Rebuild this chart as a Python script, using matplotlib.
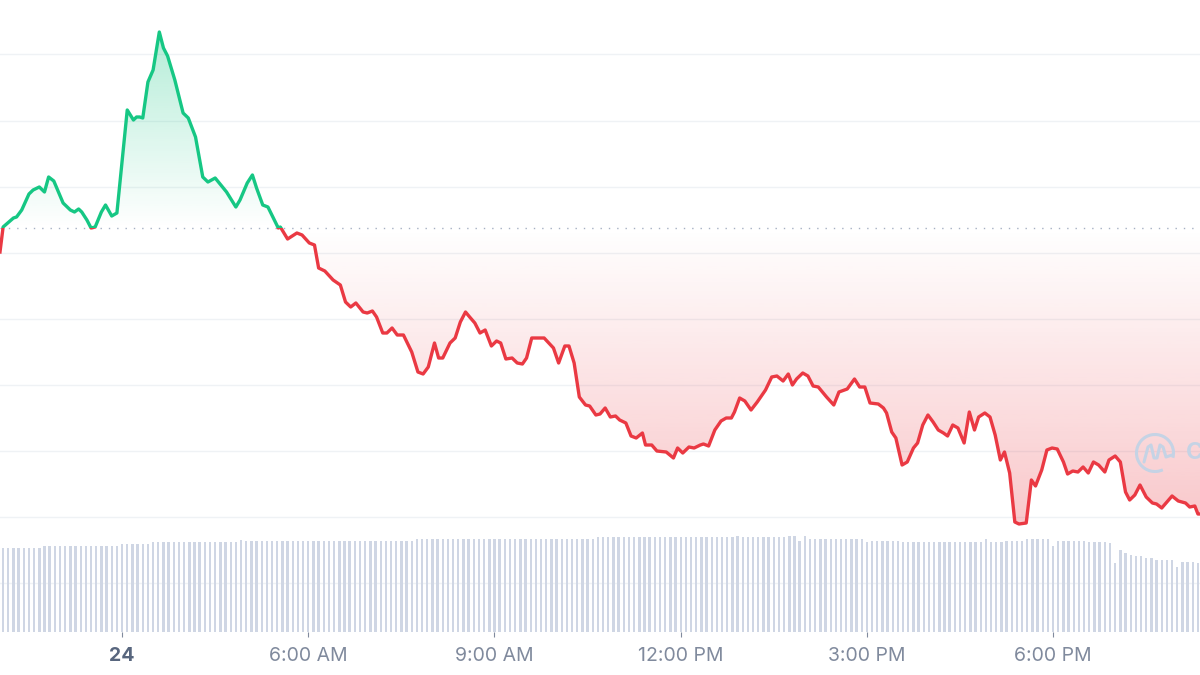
import numpy as np
import matplotlib
matplotlib.use("Agg")
import matplotlib.pyplot as plt
from matplotlib.patches import Rectangle, PathPatch, Arc
from matplotlib.path import Path
import matplotlib.colors as mcolors

plt.rcParams['font.family'] = ['Inter', 'DejaVu Sans']

# ---------------- data ----------------
# minutes since the left edge of the view (5-minute candles)
price_time = [0, 3, 13, 16, 21, 28, 32, 38, 43, 47,
              52, 61, 68, 72, 76, 79, 84, 88, 92, 98,
              102, 108, 113, 123, 129, 132, 135, 138, 143, 148,
              154, 158, 162, 169, 177, 182, 189, 196, 201, 208,
              215, 219, 228, 232, 239, 244, 248, 254, 259, 269,
              271, 278, 287, 292, 299, 304, 308, 314, 322, 329,
              334, 339, 344, 351, 355, 360, 364, 370, 374, 379,
              384, 390, 398, 404, 409, 414, 420, 424, 428, 435,
              440, 445, 450, 454, 459, 464, 469, 475, 480, 484,
              489, 495, 500, 505, 509, 514, 520, 526, 535, 540,
              546, 550, 555, 560, 566, 570, 576, 580, 585, 590,
              595, 599, 605, 610, 615, 621, 624, 630, 635, 644,
              651, 655, 660, 666, 671, 677, 680, 685, 691, 697,
              702, 707, 710, 715, 720, 726, 732, 740, 746, 751,
              757, 762, 766, 770, 776, 781, 786, 791, 799, 806,
              811, 819, 826, 831, 836, 841, 849, 854, 857, 862,
              866, 872, 877, 883, 887, 892, 897, 902, 907, 912,
              916, 921, 926, 932, 937, 942, 946, 952, 957, 962,
              967, 971, 976, 981, 985, 992, 997, 1001, 1007, 1012,
              1017, 1022, 1028, 1032, 1037, 1042, 1047, 1052, 1057, 1062,
              1068, 1072, 1078, 1083, 1088, 1092, 1097, 1102, 1108, 1114,
              1118, 1123, 1133, 1139, 1146, 1150, 1155, 1158, 1160]

price = [380, 405, 414, 415, 422, 438, 442, 445, 440, 455,
         451, 429, 422, 420, 423, 420, 412, 404, 405, 420,
         427, 416, 419, 522, 512, 515, 515, 514, 550, 562,
         600, 584, 576, 552, 519, 514, 495, 455, 450, 454,
         445, 440, 425, 432, 449, 457, 444, 427, 425, 404,
         405, 393, 399, 397, 389, 387, 364, 361, 352, 347,
         330, 325, 329, 320, 319, 321, 315, 299, 299, 304,
         297, 297, 280, 260, 258, 265, 289, 274, 274, 289,
         294, 310, 320, 315, 309, 299, 302, 286, 291, 289,
         273, 274, 269, 268, 274, 294, 294, 294, 284, 269,
         286, 286, 269, 235, 227, 226, 217, 218, 224, 215,
         216, 212, 209, 196, 194, 199, 187, 187, 181, 180,
         174, 184, 179, 185, 184, 187, 188, 186, 202, 211,
         214, 214, 220, 234, 231, 222, 230, 242, 255, 256,
         251, 258, 247, 253, 259, 256, 246, 245, 235, 227,
         240, 243, 253, 245, 245, 229, 228, 224, 219, 200,
         194, 167, 170, 184, 189, 207, 217, 210, 202, 199,
         196, 207, 204, 189, 220, 202, 215, 219, 215, 197,
         172, 180, 159, 110, 108, 109, 152, 146, 162, 182,
         184, 183, 170, 158, 161, 160, 165, 159, 170, 167,
         160, 172, 176, 170, 140, 132, 137, 147, 135, 129,
         128, 124, 136, 131, 129, 125, 126, 118, 118]

open_price = 404  # reference (opening) price, dotted line

volume = [8.4, 8.4, 8.4, 8.4, 8.4, 8.4, 8.4, 8.4,
          8.6, 8.6, 8.6, 8.6, 8.6, 8.6, 8.6, 8.6, 8.6, 8.6, 8.6, 8.6, 8.6, 8.6, 8.6,
          8.8, 8.8, 8.8, 8.8, 8.8, 8.8,
          9.0, 9.0, 9.0, 9.0, 9.0, 9.0, 9.0, 9.0, 9.0, 9.0, 9.0, 9.0, 9.0, 9.0, 9.0, 9.0, 9.0,
          9.2,
          9.1, 9.1, 9.1, 9.1, 9.1, 9.1, 9.1, 9.1, 9.1, 9.1, 9.1, 9.1, 9.1, 9.1, 9.1, 9.1, 9.1,
          9.1, 9.1, 9.1, 9.1, 9.1, 9.1, 9.1, 9.1, 9.1, 9.1, 9.1, 9.1, 9.1, 9.1, 9.1, 9.1,
          9.3, 9.3, 9.3, 9.3, 9.3, 9.3, 9.3, 9.3, 9.3, 9.3, 9.3, 9.3, 9.3, 9.3, 9.3, 9.3, 9.3, 9.3,
          9.3, 9.3, 9.3, 9.3, 9.3, 9.3, 9.3, 9.3, 9.3, 9.3, 9.3, 9.3, 9.3, 9.3, 9.3, 9.3, 9.3,
          9.5, 9.5, 9.5, 9.5, 9.5, 9.5, 9.5, 9.5, 9.5, 9.5, 9.5, 9.5, 9.5, 9.5,
          9.5, 9.5, 9.5, 9.5, 9.5, 9.5, 9.5, 9.5, 9.5, 9.5, 9.5, 9.5, 9.5,
          9.6,
          9.5, 9.5, 9.5, 9.5, 9.5, 9.5, 9.5, 9.5, 9.5,
          9.6, 9.6, 9.1, 9.6,
          9.3, 9.3, 9.3, 9.3, 9.3, 9.3, 9.3, 9.3, 9.3, 9.3, 9.3,
          9.0,
          9.1, 9.1, 9.1, 9.1, 9.1, 9.1,
          9.0, 9.0, 9.0, 9.0, 9.0, 9.0, 9.0, 9.0, 9.0, 9.0, 9.0, 9.0, 9.0, 9.0, 9.0, 9.0,
          9.3,
          9.0, 9.0, 9.0,
          9.1, 9.1, 9.1, 9.1,
          9.3, 9.3, 9.3, 9.3, 9.3,
          8.6,
          9.1, 9.1, 9.1, 9.1, 9.1, 9.1,
          9.0, 9.0, 9.0, 9.0, 8.9,
          6.9, 8.2, 7.9, 7.7, 7.6, 7.6, 7.4, 7.4, 7.2, 7.2, 7.2, 7.2,
          6.5, 7.0, 7.0, 7.0, 6.9]
volume_time = 3 + 5 * np.arange(len(volume))

tick_minutes = [118, 298, 478, 658, 838, 1018]
tick_labels = ["24", "6:00 AM", "9:00 AM", "12:00 PM", "3:00 PM", "6:00 PM"]
grid_levels = [49, 115, 181, 247, 313, 379, 445, 511, 578]

GREEN = "#16c784"
RED = "#ea3943"
GRID = "#eff2f5"
VOLC = "#cfd6e4"

# ---------------- figure ----------------
W, H = 1200, 675
fig = plt.figure(figsize=(W / 100, H / 100), dpi=100)
fig.patch.set_facecolor("white")

bottom_px = 632
ax = fig.add_axes([0, (H - bottom_px) / H, 1, bottom_px / H])
ax.set_xlim(0, 1160)
ax.set_ylim(0, 632)
for s in ax.spines.values():
    s.set_visible(False)
ax.set_yticks([])
ax.set_facecolor("none")

t = np.array(price_time, dtype=float)
p = np.array(price, dtype=float)

# grid
for g in grid_levels:
    ax.axhline(g, color=GRID, lw=1.0, zorder=0)

# gradient fills clipped to the area between line and opening price
def gradient_fill(where, color, a_far, y_far):
    coll = ax.fill_between(t, p, open_price, where=where, interpolate=True,
                           facecolor="none", edgecolor="none")
    paths = coll.get_paths()
    if not paths:
        return
    comp = Path.make_compound_path(*paths)
    patch = PathPatch(comp, facecolor="none", edgecolor="none", transform=ax.transData)
    ax.add_patch(patch)
    n = 256
    rgb = mcolors.to_rgb(color)
    img = np.zeros((n, 1, 4))
    img[:, 0, :3] = rgb
    lo, hi = sorted([open_price, y_far])
    vals = np.linspace(lo, hi, n)
    img[:, 0, 3] = a_far * np.abs(vals - open_price) / abs(y_far - open_price)
    im = ax.imshow(img, extent=[0, 1160, lo, hi], origin="lower",
                   aspect="auto", zorder=1, interpolation="bilinear")
    im.set_clip_path(patch)

gradient_fill(p >= open_price, GREEN, 0.32, max(price))
gradient_fill(p <= open_price, RED, 0.28, min(price))

# opening-price dotted line
ax.axhline(open_price, color="#a6b0c3", lw=1.0, ls=(0, (1, 5)), zorder=2)

# price line split at the opening price
lg, = ax.plot(t, p, color=GREEN, lw=2.4, zorder=3, solid_joinstyle="round")
lr, = ax.plot(t, p, color=RED, lw=2.4, zorder=3, solid_joinstyle="round")
lg.set_clip_path(Rectangle((-10, open_price), 1200, 1000, transform=ax.transData))
lr.set_clip_path(Rectangle((-10, -1000), 1200, 1000 + open_price, transform=ax.transData))

# x axis ticks
ax.set_xticks(tick_minutes)
ax.set_xticklabels(tick_labels)
ax.tick_params(axis="x", direction="out", length=3.6, width=0.8, color="#808a9d",
               pad=7, labelsize=14, labelcolor="#808a9d")
lbls = ax.get_xticklabels()
lbls[0].set_fontweight("bold")
lbls[0].set_color("#58667e")

# volume bars
axv = ax.twinx()
axv.set_position(ax.get_position())
axv.set_xlim(0, 1160)
axv.set_ylim(0, 63.2)
axv.bar(volume_time, volume, width=2.3, color=VOLC, linewidth=0, zorder=2)
axv.axis("off")

# watermark logo (decoration)
lx0, ly0, ls_ = 1130, 478, 50
lax = fig.add_axes([lx0 / W, (H - ly0) / H, ls_ / W, ls_ / H])
lax.set_xlim(-25, 25)
lax.set_ylim(-25, 25)
lax.axis("off")
wm = "#c5d3e5"
lax.add_patch(Arc((0, 0), 37, 37, theta1=-15, theta2=295, color=wm, lw=2.2))
wave_x = [-11, -7, -4, -1, 2, 5, 8, 11, 17]
wave_y = [-9, 6, 8, -5, -5, 8, 6, -4, -2]
lax.plot(wave_x, wave_y, color=wm, lw=2.2, solid_joinstyle="round", solid_capstyle="round")
fig.text(1186 / W, (H - 453) / H, "CoinMarketCap", color=wm, fontsize=17,
         fontweight="bold", ha="left", va="center")

fig.savefig("out.png", dpi=100, facecolor="white")
